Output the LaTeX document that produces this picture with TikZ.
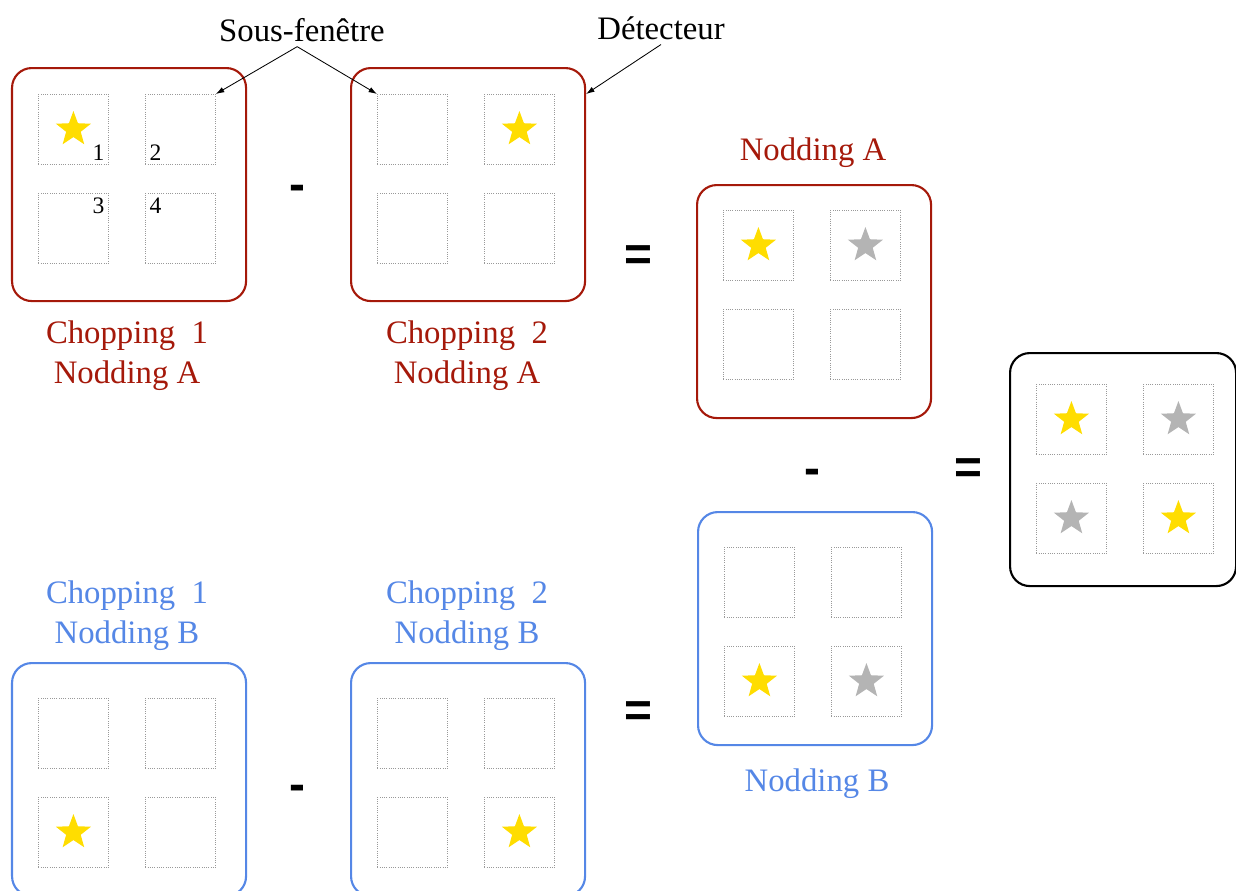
\documentclass[tikz,border=0pt]{standalone}
\usepackage{fontspec}
\setmainfont{Liberation Serif}
\newfontfamily\signefont{Liberation Sans}
\usetikzlibrary{shapes.geometric,arrows.meta}

\definecolor{rougedet}{RGB}{165,25,10}
\definecolor{bleudet}{RGB}{85,135,230}
\definecolor{jaune}{RGB}{255,221,0}
\definecolor{grisetoile}{RGB}{180,180,180}

\tikzset{
  detbox/.style={draw, line width=1.5pt, rounded corners=14pt, minimum width=5.85cm,
    minimum height=5.825cm, inner sep=0pt, anchor=north west},
  subwin/.style={draw=gray!80, densely dotted, line width=0.6pt, minimum size=1.75cm,
    inner sep=0pt, anchor=north west},
  etoile/.style={star, star points=5, star point ratio=2.4, fill=#1, draw=none,
    minimum size=0.92cm, inner sep=0pt},
  lbl/.style={font=\fontsize{23.3}{28.45}\selectfont, align=center},
  num/.style={font=\fontsize{16.8}{18}\selectfont, inner sep=3pt},
  signe/.style={font=\signefont\bfseries\fontsize{34}{34}\selectfont, inner sep=0pt},
  fleche/.style={-{Latex[length=6pt,width=4pt]}, line width=0.6pt},
}

% detecteur : nom, x, y (coin haut gauche), options du cadre, marge du haut
\newcommand{\detecteur}[5]{%
  \node[detbox, #4] (#1) at (#2,#3) {};
  \node[subwin] (#1-1) at (#2+0.675,#3-#5) {};
  \node[subwin] (#1-2) at (#2+3.35,#3-#5) {};
  \node[subwin] (#1-3) at (#2+0.675,#3-#5-2.475) {};
  \node[subwin] (#1-4) at (#2+3.35,#3-#5-2.475) {};
}

\begin{document}
\begin{tikzpicture}
    \useasboundingbox (0,0) rectangle (30.9,-22.25);

    % nodding A
    \detecteur{c1a}{0.275}{-1.675}{draw=rougedet}{0.675}
    \detecteur{c2a}{8.75}{-1.675}{draw=rougedet}{0.675}
    \detecteur{na}{17.4}{-4.6}{draw=rougedet}{0.65}
    % nodding B
    \detecteur{c1b}{0.275}{-16.55}{draw=bleudet}{0.9}
    \detecteur{c2b}{8.75}{-16.55}{draw=bleudet}{0.9}
    \detecteur{nb}{17.425}{-12.775}{draw=bleudet}{0.9}
    % resultat
    \detecteur{res}{25.225}{-8.8}{draw=black, minimum width=5.65cm}{0.8}

    \node[etoile=jaune] (e1) at (c1a-1) {};
    \node[etoile=jaune] (e2) at (c2a-2) {};
    \node[etoile=jaune] (e3) at (na-1) {};
    \node[etoile=grisetoile] (e4) at (na-2) {};
    \node[etoile=jaune] (e5) at (c1b-3) {};
    \node[etoile=jaune] (e6) at (c2b-4) {};
    \node[etoile=jaune] (e7) at (nb-3) {};
    \node[etoile=grisetoile] (e8) at (nb-4) {};
    \node[etoile=jaune] (e9) at (res-1) {};
    \node[etoile=grisetoile] (e10) at (res-2) {};
    \node[etoile=grisetoile] (e11) at (res-3) {};
    \node[etoile=jaune] (e12) at (res-4) {};

    \node[num, anchor=south east] (n1) at (c1a-1.south east) {1};
    \node[num, anchor=south west] (n2) at (c1a-2.south west) {2};
    \node[num, anchor=north east] (n3) at (c1a-3.north east) {3};
    \node[num, anchor=north west] (n4) at (c1a-4.north west) {4};

    \node[lbl] (sous) at (7.55,-0.75) {Sous-fenêtre};
    \node[lbl] (det) at (16.525,-0.7) {Détecteur};
    \draw[fleche] ([xshift=-0.12cm]sous.south) -- (c1a-2.north east);
    \draw[fleche] ([xshift=-0.12cm]sous.south) -- (c2a-1.north west);
    \draw[fleche] (det.south) -- (c2a.east |- c2a-2.north);

    \node[lbl, text=rougedet] (lc1a) at (3.175,-8.9) {Chopping~ 1\\Nodding A};
    \node[lbl, text=rougedet] (lc2a) at (11.675,-8.9) {Chopping~ 2\\Nodding A};
    \node[lbl, text=rougedet] (lna) at (20.325,-3.825) {Nodding A};
    \node[lbl, text=bleudet] (lc1b) at (3.175,-15.4) {Chopping~ 1\\Nodding B};
    \node[lbl, text=bleudet] (lc2b) at (11.675,-15.4) {Chopping~ 2\\Nodding B};
    \node[lbl, text=bleudet] (lnb) at (20.425,-19.6) {Nodding B};

    \node[signe] (m1) at (7.425,-4.83) {-};
    \node[signe] (eg1) at (15.95,-6.45) {=};
    \node[signe] (m2) at (20.3,-11.93) {-};
    \node[signe] (eg2) at (24.2,-11.775) {=};
    \node[signe] (m3) at (7.425,-19.83) {-};
    \node[signe] (eg3) at (15.95,-17.85) {=};
  \end{tikzpicture}
\end{document}
